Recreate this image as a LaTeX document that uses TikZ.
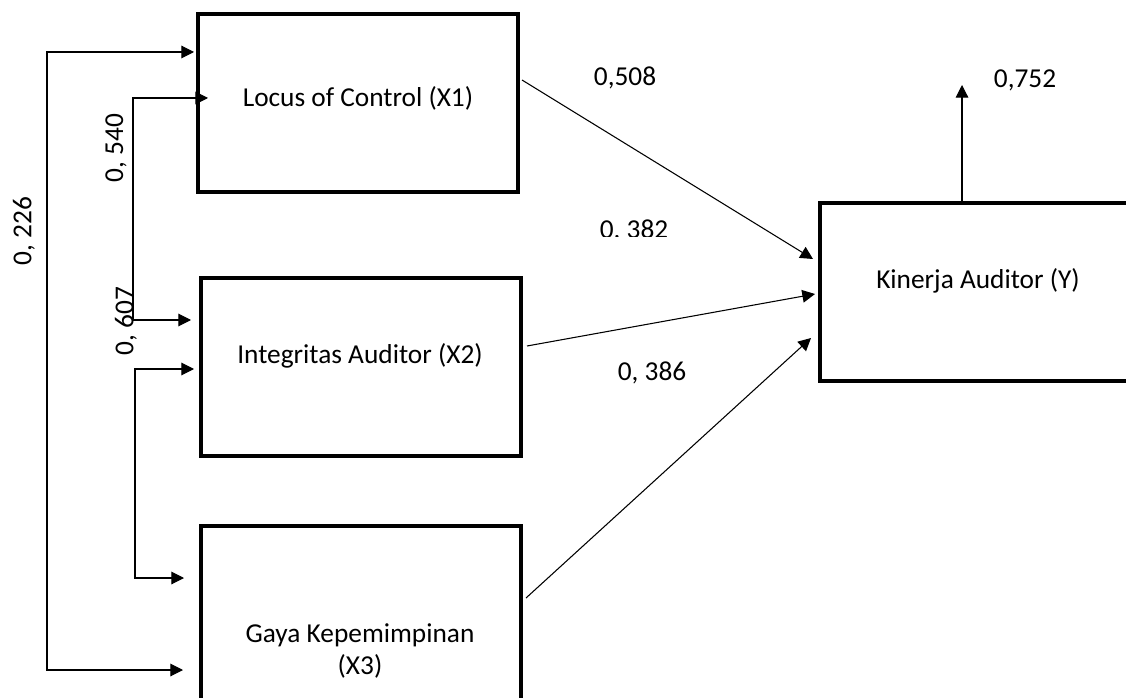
\documentclass[tikz,border=0pt]{standalone}
\usepackage{fontspec}
\setmainfont{Carlito}
\usepackage{tikz}
\usetikzlibrary{arrows.meta,calc}

\begin{document}
\begin{tikzpicture}[
  x=0.75pt, y=-0.75pt,
  font=\fontsize{20.5}{24}\selectfont,
  varbox/.style={draw, line width=3pt, minimum width=240pt, minimum height=133.5pt, inner sep=0pt},
  boxtext/.style={align=center, inner sep=0pt},
  val/.style={inner sep=0pt},
  link/.style={-{Triangle[length=9.5pt,width=9.5pt]}, line width=0.8pt},
  corr/.style={{Triangle[length=9.5pt,width=9.5pt]}-{Triangle[length=9.5pt,width=9.5pt]}, line width=0.8pt}
]
\useasboundingbox (0,0) rectangle (1126,698);
\clip (0,0) rectangle (1126,698);

\node[varbox] (x1) at (358, 103) {};
\node[varbox] (x2) at (361, 367) {};
\node[varbox] (x3) at (361, 615) {};
\node[varbox] (y)  at (980, 292) {};

\node[boxtext] (tx1) at (358, 98)  {Locus of Control (X1)};
\node[boxtext] (tx2) at (360, 356) {Integritas Auditor (X2)};
\node[boxtext] (tx3) at (360, 651) {Gaya Kepemimpinan\\(X3)};
\node[boxtext] (ty)  at (978, 281) {Kinerja Auditor (Y)};

\draw[link] ($(x1.east)+(2,-23)$) -- ($(y.west)+(-5,-33)$);
\draw[link] ($(x2.east)+(4,-21)$) -- ($(y.west)+(-3,2)$);
\draw[link] ($(x3.east)+(3,-17)$) -- ($(y.west)+(-7,46)$);

\coordinate (res) at (962, 85);
\draw[link] (y.north -| res) -- (res);

\draw[corr] ($(x1.west)+(-2,-51)$) -| ($(x3.west)+(-152,55)$) -- ($(x3.west)+(-16,55)$);
\draw[corr] ($(x1.west)+(12,-5)$) -| ($(x2.west)+(-66,-47)$) -- ($(x2.west)+(-8,-47)$);
\draw[corr] ($(x2.west)+(-5,2)$) -| ($(x3.west)+(-64,-37)$) -- ($(x3.west)+(-15,-37)$);

\node[val] (p1) at (625, 78)  {0,508};
\begin{scope}
  \clip (560,200) rectangle (720,237);
  \node[val, anchor=base] (p2) at (634, 239) {0, 382};
\end{scope}
\node[val] (p3) at (652, 373) {0, 386};
\node[val] (r2) at (1025, 80) {0,752};

\node[val, rotate=90] (c13) at (24, 231)  {0, 226};
\node[val, rotate=90] (c12) at (116, 148) {0, 540};
\node[val, rotate=90] (c23) at (126, 321) {0, 607};
\end{tikzpicture}
\end{document}
